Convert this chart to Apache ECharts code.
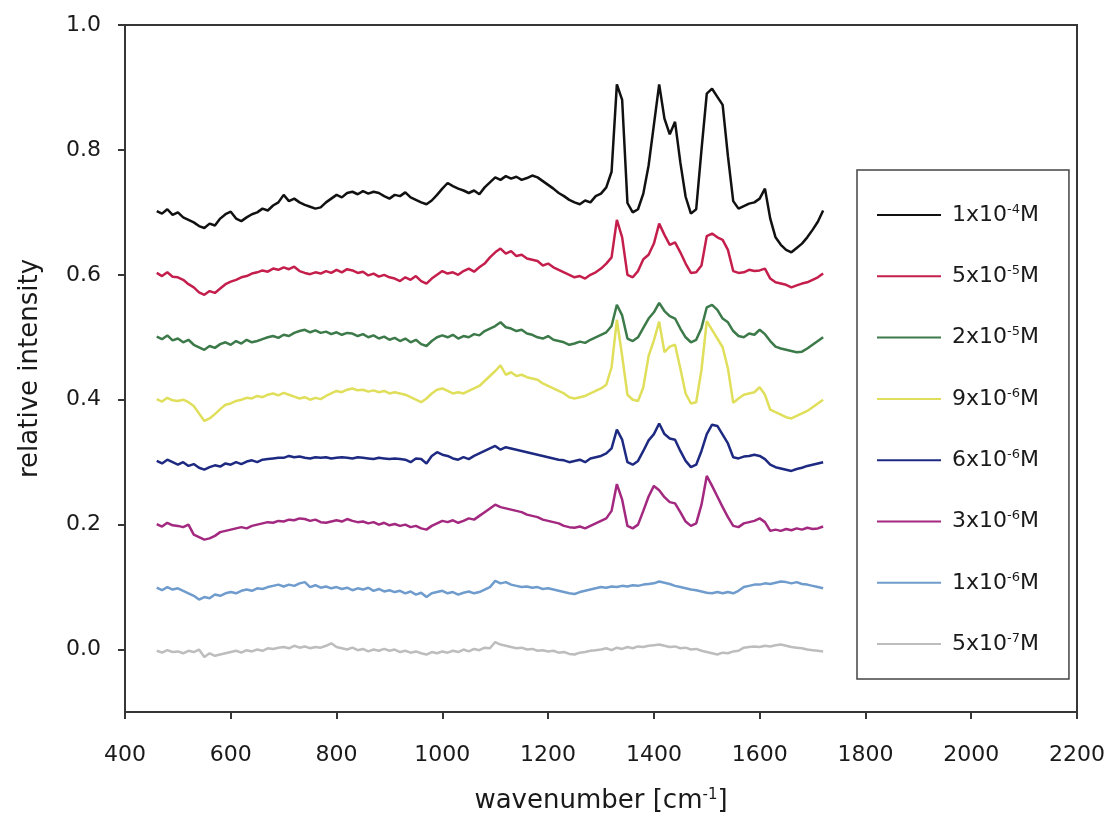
<!DOCTYPE html>
<html>
<head>
<meta charset="utf-8">
<script src="https://cdn.jsdelivr.net/npm/echarts@6/dist/echarts.min.js"></script>
<style>html,body{margin:0;padding:0;background:#fff;}#c{width:1109px;height:826px;}</style>
</head>
<body>
<div id="c"></div>
<script>
// wavenumber grid (cm^-1)
const wavenumber = [
  460, 470, 480, 490,
  500, 510, 520, 530, 540, 550, 560, 570, 580, 590,
  600, 610, 620, 630, 640, 650, 660, 670, 680, 690,
  700, 710, 720, 730, 740, 750, 760, 770, 780, 790,
  800, 810, 820, 830, 840, 850, 860, 870, 880, 890,
  900, 910, 920, 930, 940, 950, 960, 970, 980, 990,
  1000, 1010, 1020, 1030, 1040, 1050, 1060, 1070, 1080, 1090,
  1100, 1110, 1120, 1130, 1140, 1150, 1160, 1170, 1180, 1190,
  1200, 1210, 1220, 1230, 1240, 1250, 1260, 1270, 1280, 1290,
  1300, 1310, 1320, 1330, 1340, 1350, 1360, 1370, 1380, 1390,
  1400, 1410, 1420, 1430, 1440, 1450, 1460, 1470, 1480, 1490,
  1500, 1510, 1520, 1530, 1540, 1550, 1560, 1570, 1580, 1590,
  1600, 1610, 1620, 1630, 1640, 1650, 1660, 1670, 1680, 1690,
  1700, 1710, 1720
];

const conc_1e4 = [
  0.702, 0.698, 0.705, 0.696,
  0.700, 0.692, 0.688, 0.684, 0.678, 0.675, 0.682, 0.679, 0.690, 0.697,
  0.701, 0.690, 0.686, 0.692, 0.697, 0.700, 0.706, 0.703, 0.711, 0.716,
  0.728, 0.718, 0.722, 0.716, 0.712, 0.709, 0.706, 0.708, 0.716, 0.722,
  0.728, 0.724, 0.731, 0.733, 0.729, 0.734, 0.730, 0.733, 0.731, 0.726,
  0.722, 0.728, 0.726, 0.732, 0.724, 0.720, 0.716, 0.713, 0.719, 0.728,
  0.738, 0.747, 0.742, 0.738, 0.735, 0.731, 0.735, 0.729, 0.740, 0.748,
  0.756, 0.752, 0.758, 0.754, 0.757, 0.752, 0.755, 0.759, 0.756, 0.750,
  0.744, 0.738, 0.731, 0.726, 0.720, 0.716, 0.713, 0.719, 0.716, 0.726,
  0.730, 0.740, 0.765, 0.905, 0.880, 0.715, 0.700, 0.705, 0.730, 0.775,
  0.840, 0.905, 0.850, 0.825, 0.845, 0.780, 0.725, 0.698, 0.705, 0.800,
  0.890, 0.898, 0.885, 0.872, 0.790, 0.718, 0.706, 0.710, 0.714, 0.716,
  0.722, 0.738, 0.690, 0.660, 0.648, 0.640, 0.636, 0.643, 0.650, 0.660,
  0.672, 0.685, 0.703
];
const conc_5e5 = [
  0.603, 0.598, 0.604, 0.597,
  0.596, 0.592, 0.585, 0.580, 0.572, 0.568, 0.574, 0.571, 0.578, 0.585,
  0.589, 0.592, 0.596, 0.598, 0.602, 0.604, 0.607, 0.605, 0.610, 0.608,
  0.612, 0.609, 0.613, 0.606, 0.603, 0.601, 0.604, 0.602, 0.606, 0.603,
  0.608, 0.604, 0.609, 0.607, 0.603, 0.605, 0.599, 0.602, 0.597, 0.600,
  0.596, 0.594, 0.590, 0.596, 0.592, 0.598, 0.590, 0.586, 0.594, 0.600,
  0.606, 0.602, 0.604, 0.600, 0.606, 0.610, 0.605, 0.612, 0.618, 0.628,
  0.636, 0.642, 0.634, 0.638, 0.630, 0.632, 0.626, 0.624, 0.622, 0.615,
  0.618, 0.612, 0.608, 0.604, 0.600, 0.596, 0.598, 0.594, 0.600, 0.604,
  0.610, 0.618, 0.628, 0.688, 0.660, 0.600, 0.596, 0.606, 0.625, 0.632,
  0.650, 0.682, 0.664, 0.648, 0.652, 0.636, 0.618, 0.603, 0.604, 0.615,
  0.662, 0.666, 0.660, 0.656, 0.640, 0.606, 0.603, 0.604, 0.608, 0.606,
  0.607, 0.610, 0.594, 0.588, 0.586, 0.584, 0.580, 0.583, 0.586, 0.588,
  0.592, 0.596, 0.602
];
const conc_2e5 = [
  0.501, 0.497, 0.503, 0.495,
  0.498, 0.492, 0.496, 0.488, 0.484, 0.480, 0.486, 0.483, 0.489, 0.492,
  0.488, 0.494, 0.490, 0.496, 0.492, 0.494, 0.497, 0.500, 0.502, 0.499,
  0.504, 0.502, 0.507, 0.510, 0.512, 0.508, 0.511, 0.507, 0.509, 0.505,
  0.508, 0.504, 0.507, 0.506, 0.502, 0.505, 0.500, 0.503, 0.498, 0.501,
  0.496, 0.499, 0.494, 0.498, 0.492, 0.496, 0.489, 0.486, 0.494, 0.500,
  0.503, 0.500, 0.504, 0.498, 0.502, 0.500, 0.505, 0.503, 0.510, 0.514,
  0.518, 0.524, 0.516, 0.514, 0.510, 0.512, 0.506, 0.504, 0.500, 0.498,
  0.502, 0.496, 0.494, 0.492, 0.488, 0.490, 0.493, 0.491, 0.496, 0.500,
  0.504, 0.508, 0.518, 0.552, 0.535, 0.498, 0.494, 0.500, 0.515, 0.530,
  0.540, 0.555, 0.542, 0.534, 0.530, 0.514, 0.500, 0.492, 0.496, 0.515,
  0.548, 0.552, 0.544, 0.530, 0.524, 0.510, 0.502, 0.500, 0.506, 0.504,
  0.512, 0.505, 0.494, 0.485, 0.482, 0.480, 0.478, 0.476, 0.477, 0.482,
  0.488, 0.494, 0.500
];
const conc_9e6 = [
  0.401, 0.397, 0.403, 0.399,
  0.398, 0.400, 0.396, 0.390, 0.378, 0.366, 0.370, 0.377, 0.385, 0.392,
  0.394, 0.398, 0.400, 0.403, 0.402, 0.406, 0.404, 0.408, 0.410, 0.407,
  0.411, 0.408, 0.405, 0.402, 0.404, 0.400, 0.403, 0.401, 0.406, 0.410,
  0.414, 0.412, 0.416, 0.418, 0.415, 0.416, 0.413, 0.415, 0.412, 0.414,
  0.410, 0.412, 0.410, 0.408, 0.404, 0.400, 0.396, 0.402, 0.410, 0.416,
  0.418, 0.414, 0.410, 0.412, 0.410, 0.414, 0.418, 0.422, 0.430, 0.438,
  0.446, 0.455, 0.440, 0.444, 0.438, 0.440, 0.436, 0.434, 0.432, 0.426,
  0.422, 0.418, 0.414, 0.410, 0.404, 0.402, 0.404, 0.406, 0.410, 0.414,
  0.418, 0.424, 0.452, 0.528, 0.470, 0.408, 0.400, 0.398, 0.420, 0.470,
  0.495, 0.525, 0.476, 0.485, 0.488, 0.450, 0.410, 0.394, 0.396, 0.448,
  0.526, 0.512, 0.498, 0.484, 0.450, 0.395, 0.402, 0.408, 0.410, 0.412,
  0.420, 0.408, 0.384, 0.380, 0.376, 0.372, 0.370, 0.374, 0.378, 0.382,
  0.388, 0.394, 0.400
];
const conc_6e6 = [
  0.302, 0.298, 0.304, 0.300,
  0.296, 0.300, 0.294, 0.297, 0.291, 0.288, 0.292, 0.295, 0.293, 0.298,
  0.296, 0.300, 0.297, 0.301, 0.303, 0.300, 0.304, 0.305, 0.306, 0.307,
  0.307, 0.310, 0.308, 0.309, 0.307, 0.306, 0.308, 0.307, 0.308, 0.306,
  0.307, 0.308, 0.307, 0.306, 0.308, 0.307, 0.306, 0.305, 0.307, 0.306,
  0.305, 0.306, 0.305, 0.304, 0.300, 0.306, 0.305, 0.298, 0.310, 0.316,
  0.312, 0.310, 0.306, 0.304, 0.308, 0.305, 0.310, 0.314, 0.318, 0.322,
  0.326, 0.320, 0.324, 0.322, 0.320, 0.318, 0.316, 0.314, 0.312, 0.310,
  0.308, 0.306, 0.304, 0.303, 0.300, 0.302, 0.304, 0.300, 0.306, 0.308,
  0.310, 0.314, 0.322, 0.352, 0.336, 0.300, 0.296, 0.302, 0.318, 0.335,
  0.345, 0.362, 0.345, 0.338, 0.336, 0.318, 0.302, 0.292, 0.296, 0.318,
  0.345, 0.360, 0.358, 0.344, 0.330, 0.308, 0.306, 0.309, 0.310, 0.312,
  0.310, 0.305, 0.296, 0.292, 0.290, 0.288, 0.286, 0.289, 0.291, 0.294,
  0.296, 0.298, 0.300
];
const conc_3e6 = [
  0.201, 0.197, 0.203, 0.199,
  0.198, 0.196, 0.200, 0.184, 0.180, 0.176, 0.178, 0.182, 0.188, 0.190,
  0.192, 0.194, 0.196, 0.194, 0.198, 0.200, 0.202, 0.204, 0.203, 0.206,
  0.205, 0.208, 0.207, 0.210, 0.209, 0.206, 0.208, 0.204, 0.203, 0.205,
  0.207, 0.205, 0.209, 0.206, 0.204, 0.205, 0.202, 0.204, 0.200, 0.203,
  0.199, 0.201, 0.198, 0.200, 0.196, 0.198, 0.194, 0.192, 0.198, 0.202,
  0.206, 0.204, 0.207, 0.203, 0.206, 0.210, 0.208, 0.214, 0.220, 0.226,
  0.232, 0.228, 0.226, 0.224, 0.222, 0.220, 0.216, 0.214, 0.212, 0.208,
  0.206, 0.204, 0.202, 0.198, 0.196, 0.195, 0.197, 0.194, 0.198, 0.202,
  0.206, 0.210, 0.222, 0.265, 0.240, 0.198, 0.194, 0.200, 0.222, 0.245,
  0.262, 0.255, 0.244, 0.236, 0.234, 0.220, 0.205, 0.198, 0.202, 0.232,
  0.278, 0.262, 0.245, 0.228, 0.212, 0.198, 0.196, 0.202, 0.204, 0.206,
  0.210, 0.204, 0.190, 0.192, 0.190, 0.193, 0.191, 0.194, 0.192, 0.195,
  0.193, 0.194, 0.197
];
const conc_1e6 = [
  0.099, 0.095, 0.100, 0.096,
  0.098, 0.094, 0.090, 0.086, 0.080, 0.084, 0.082, 0.088, 0.086, 0.090,
  0.092, 0.090, 0.094, 0.096, 0.094, 0.098, 0.097, 0.100, 0.102, 0.104,
  0.101, 0.104, 0.102, 0.106, 0.108, 0.100, 0.103, 0.099, 0.101, 0.098,
  0.100, 0.097, 0.099, 0.095, 0.098, 0.096, 0.099, 0.094, 0.097, 0.093,
  0.095, 0.092, 0.094, 0.090, 0.093, 0.088, 0.091, 0.084, 0.090, 0.092,
  0.094, 0.090, 0.092, 0.088, 0.091, 0.093, 0.090, 0.092, 0.096, 0.100,
  0.110, 0.106, 0.108, 0.104, 0.102, 0.100, 0.101, 0.099, 0.100, 0.097,
  0.098, 0.096, 0.094, 0.092, 0.090, 0.089, 0.092, 0.094, 0.096, 0.098,
  0.100, 0.099, 0.101, 0.100, 0.102, 0.101, 0.103, 0.102, 0.104, 0.105,
  0.106, 0.109, 0.107, 0.105, 0.102, 0.100, 0.098, 0.096, 0.095, 0.093,
  0.091, 0.090, 0.092, 0.090, 0.092, 0.090, 0.094, 0.100, 0.102, 0.104,
  0.104, 0.106, 0.105, 0.107, 0.109, 0.108, 0.106, 0.108, 0.105, 0.104,
  0.102, 0.100, 0.098
];
const conc_5e7 = [
  -0.002, -0.005, -0.001, -0.004,
  -0.003, -0.006, -0.002, -0.004, 0.000, -0.012, -0.006, -0.010, -0.008, -0.006,
  -0.004, -0.002, -0.005, -0.001, -0.003, 0.000, -0.002, 0.002, 0.001, 0.003,
  0.004, 0.002, 0.006, 0.003, 0.005, 0.002, 0.004, 0.003, 0.006, 0.010,
  0.004, 0.002, 0.000, 0.003, -0.001, 0.001, -0.003, 0.000, -0.002, 0.001,
  -0.002, 0.000, -0.004, -0.002, -0.005, -0.003, -0.006, -0.008, -0.004, -0.006,
  -0.003, -0.005, -0.002, -0.004, 0.000, -0.003, 0.001, -0.001, 0.003, 0.002,
  0.012, 0.008, 0.006, 0.004, 0.002, 0.003, 0.000, 0.001, -0.002, -0.001,
  -0.003, -0.002, -0.005, -0.004, -0.007, -0.008, -0.005, -0.004, -0.002, -0.001,
  0.000, 0.002, -0.001, 0.003, 0.001, 0.004, 0.002, 0.005, 0.004, 0.006,
  0.007, 0.008, 0.006, 0.004, 0.005, 0.002, 0.003, 0.000, 0.001, -0.002,
  -0.004, -0.006, -0.008, -0.005, -0.006, -0.003, -0.002, 0.003, 0.004, 0.005,
  0.004, 0.006, 0.005, 0.007, 0.008, 0.006, 0.004, 0.003, 0.002, 0.000,
  -0.001, -0.002, -0.003
];

const seriesNames = ['1x10-4M', '5x10-5M', '2x10-5M', '9x10-6M', '6x10-6M', '3x10-6M', '1x10-6M', '5x10-7M'];
const legendMantissa = ['1x10', '5x10', '2x10', '9x10', '6x10', '3x10', '1x10', '5x10'];
const legendExponent = ['-4', '-5', '-5', '-6', '-6', '-6', '-6', '-7'];
const seriesValues = [conc_1e4, conc_5e5, conc_2e5, conc_9e6, conc_6e6, conc_3e6, conc_1e6, conc_5e7];
const seriesColors = ['#111111', '#c41f4c', '#3c7a4a', '#e0df5c', '#1e2a82', '#a3287f', '#6f9ccd', '#bdbdbd'];

const xTicks = [400, 600, 800, 1000, 1200, 1400, 1600, 1800, 2000, 2200];
const yTicks = [0, 0.2, 0.4, 0.6, 0.8, 1.0];

const FONT = 'DejaVu Sans';
const AX = '#363636';

const chart = echarts.init(document.getElementById('c'), null, {renderer: 'canvas'});
chart.setOption({
  animation: false,
  backgroundColor: '#fff',
  grid: {left: 125, right: 32, top: 25, bottom: 114, show: true, borderColor: AX, borderWidth: 2, backgroundColor: 'transparent'},
  xAxis: {
    type: 'value', min: 400, max: 2200, interval: 200,
    axisLine: {show: true, onZero: false, lineStyle: {color: AX, width: 2}},
    axisTick: {show: true, inside: false, length: 7, lineStyle: {color: AX, width: 2}, customValues: xTicks},
    axisLabel: {color: '#1a1a1a', fontFamily: FONT, fontSize: 22, margin: 32, customValues: xTicks,
      formatter: v => String(v)},
    splitLine: {show: false},
    name: 'wavenumber [cm{s|-1}]', nameLocation: 'middle', nameGap: 76,
    nameTextStyle: {color: '#1a1a1a', fontFamily: FONT, fontSize: 26,
      rich: {s: {fontFamily: FONT, fontSize: 15, verticalAlign: 'top', lineHeight: 14, color: '#1a1a1a'}}}
  },
  yAxis: {
    type: 'value', min: -0.1, max: 1.0,
    axisLine: {show: true, onZero: false, lineStyle: {color: AX, width: 2}},
    axisTick: {show: true, inside: false, length: 7, lineStyle: {color: AX, width: 2}, customValues: yTicks},
    axisLabel: {color: '#1a1a1a', fontFamily: FONT, fontSize: 22, margin: 24, customValues: yTicks,
      formatter: v => Number(v).toFixed(1)},
    splitLine: {show: false},
    name: 'relative intensity', nameLocation: 'middle', nameGap: 82, nameRotate: 90,
    nameTextStyle: {color: '#1a1a1a', fontFamily: FONT, fontSize: 26}
  },
  legend: {
    orient: 'vertical', left: 857, top: 170,
    padding: [33, 30, 24, 20],
    itemGap: 38.3, itemWidth: 64, itemHeight: 2, icon: 'rect',
    borderColor: '#444', borderWidth: 1.5, borderRadius: 0, backgroundColor: '#fff',
    data: seriesNames,
    formatter: name => {
      const i = seriesNames.indexOf(name);
      return '{a|' + legendMantissa[i] + '}{s|' + legendExponent[i] + '}{a|M}';
    },
    textStyle: {
      padding: [0, 0, 0, 6],
      rich: {
        a: {fontFamily: FONT, fontSize: 22, color: '#1a1a1a', lineHeight: 24},
        s: {fontFamily: FONT, fontSize: 13, color: '#1a1a1a', verticalAlign: 'top', lineHeight: 13}
      }
    }
  },
  series: seriesNames.map((name, k) => ({
    name: name,
    type: 'line',
    showSymbol: false,
    symbol: 'none',
    color: seriesColors[k],
    lineStyle: {color: seriesColors[k], width: 2.5},
    data: wavenumber.map((w, i) => [w, seriesValues[k][i]])
  }))
});
</script>
</body>
</html>
